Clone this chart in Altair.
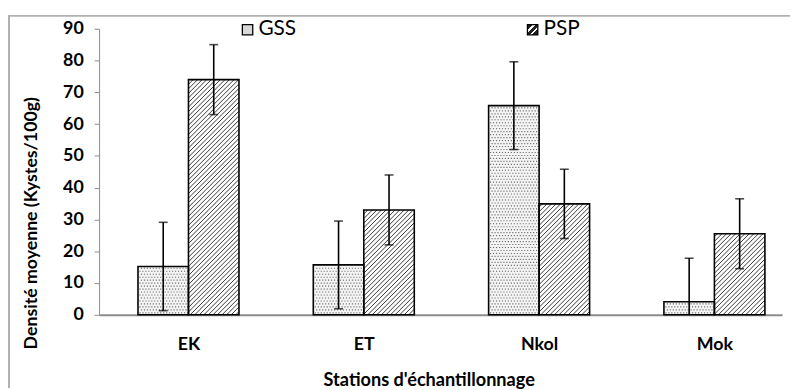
import json
import numpy as np
import pandas as pd
import altair as alt

# ---------------- data ----------------
stations = ["EK", "ET", "Nkol", "Mok"]
series = ["GSS", "PSP"]
gss_mean = [15.2, 15.7, 65.8, 4.1]
gss_err = [13.9, 13.8, 13.8, 13.7]
psp_mean = [74.0, 33.0, 34.9, 25.5]
psp_err = [11.0, 11.0, 10.9, 11.0]
y_ticks = [0, 10, 20, 30, 40, 50, 60, 70, 80, 90]

# ---------------- layout ----------------
W, H = 690, 289
X0, X1 = -0.51, 3.386
Y0, Y1 = 0, 90
HALF = 0.288            # width of one bar, in station units
KX = W / (X1 - X0)      # px per x unit
KY = H / (Y1 - Y0)      # px per y unit
FONT = "Lato"
PAD_B = 74

rows = []
for i, st in enumerate(stations):
    for s, means, errs in (("GSS", gss_mean, gss_err), ("PSP", psp_mean, psp_err)):
        m, e = means[i], errs[i]
        xl = i - HALF if s == "GSS" else i
        xr = i if s == "GSS" else i + HALF
        rows.append(dict(station=st, series=s, mean=m, err=e, xl=xl, xr=xr,
                         xc=(xl + xr) / 2, lo=max(0.0, m - e), hi=m + e,
                         lo_ok=(m - e) >= 0))
bars = pd.DataFrame(rows)

caps = pd.concat([
    bars[["xc", "hi"]].rename(columns={"hi": "yv"}),
    bars.loc[bars.lo_ok, ["xc", "lo"]].rename(columns={"lo": "yv"}),
])

# hatch texture for PSP bars ("/" lines clipped to each bar)
hatch = []
S = 4.6
for _, r in bars[bars.series == "PSP"].iterrows():
    ul, ur, hp = (r.xl - X0) * KX, (r.xr - X0) * KX, r["mean"] * KY
    c = np.floor((ul - hp) / S) * S
    while c < ur:
        ua, ub = max(ul, c), min(ur, c + hp)
        if ub - ua > 0.4:
            hatch.append(dict(x=ua / KX + X0, x2=ub / KX + X0,
                              y=(ua - c) / KY, y2=(ub - c) / KY))
        c += S
hatch = pd.DataFrame(hatch)

# dotted texture for GSS bars
dots = []
for _, r in bars[bars.series == "GSS"].iterrows():
    ul, ur, hp = (r.xl - X0) * KX, (r.xr - X0) * KX, r["mean"] * KY
    row = 0
    w = 2.0
    while w < hp - 1:
        u = ul + (2.0 if row % 2 == 0 else 3.5)
        while u < ur - 1:
            dots.append(dict(x=u / KX + X0, y=w / KY))
            u += 3.0
        w += 3.0
        row += 1
dots = pd.DataFrame(dots)

xscale = alt.Scale(domain=[X0, X1], nice=False, zero=False)
yscale = alt.Scale(domain=[Y0, Y1], nice=False, zero=True)

XT = "Stations d'échantillonnage"
YT = "Densité moyenne (Kystes/100g)"
label_expr = json.dumps(stations) + "[datum.value]"
xaxis = alt.Axis(values=[0, 1, 2, 3], labelExpr=label_expr, ticks=False, grid=False,
                 domainColor="#8c8c8c", domainWidth=2, labelPadding=21,
                 labelFontSize=18, labelFontWeight="bold", labelColor="black",
                 title=XT, titleFontSize=18.3, titleFontWeight="bold",
                 titleColor="black", titleX=333, titleY=71, titleAnchor="middle",
                 titleBaseline="alphabetic")
yaxis = alt.Axis(values=y_ticks, grid=False, domainColor="#8c8c8c", tickColor="#8c8c8c",
                 tickSize=5, labelPadding=11, labelFontSize=18, labelFontWeight="bold",
                 labelColor="black", title=YT,
                 titleFontSize=17.9, titleFontWeight="bold", titleColor="black",
                 titleX=-59, titleY=196)


def X(field):
    return alt.X(field, scale=xscale, axis=xaxis, title=XT)


def Y(field):
    return alt.Y(field, scale=yscale, axis=yaxis, title=YT)


base = alt.Chart(bars)

bar_fill = base.mark_bar(stroke=None).encode(
    x=X("xl:Q"), x2="xr:Q", y=Y("mean:Q"), y2=alt.datum(0),
    fill=alt.Fill("series:N", scale=alt.Scale(domain=series, range=["#f4f4f4", "#ffffff"]),
                  legend=None),
)

dot_layer = alt.Chart(dots).mark_square(size=1.3, color="#6a6a6a", opacity=1).encode(
    x=X("x:Q"), y=Y("y:Q"),
)

hatch_layer = alt.Chart(hatch).mark_rule(color="#222222", strokeWidth=0.9).encode(
    x=X("x:Q"), x2="x2:Q", y=Y("y:Q"), y2="y2:Q",
)

bar_outline = base.mark_bar(fillOpacity=0, stroke="black", strokeWidth=1.6).encode(
    x=X("xl:Q"), x2="xr:Q", y=Y("mean:Q"), y2=alt.datum(0),
)

err_rule = base.mark_rule(color="black", strokeWidth=1.6).encode(
    x=X("xc:Q"), y=Y("lo:Q"), y2="hi:Q",
)

err_caps = alt.Chart(caps).mark_tick(orient="horizontal", size=9, thickness=1.6,
                                     color="black").encode(
    x=X("xc:Q"), y=Y("yv:Q"),
)

one = pd.DataFrame({"k": [0]})
frame_top = alt.Chart(one).mark_rule(color="#b0b0b0", strokeWidth=2).encode(
    x=alt.value(-92), x2=alt.value(W + 8), y=alt.value(-13))
frame_left = alt.Chart(one).mark_rule(color="#b0b0b0", strokeWidth=2).encode(
    x=alt.value(-91), y=alt.value(-13), y2=alt.value(H + PAD_B))

stripes = {"gradient": "linear", "x1": 0, "y1": 0, "x2": 1, "y2": 1,
           "stops": [{"offset": 0.0, "color": "#222"}, {"offset": 0.28, "color": "#222"},
                     {"offset": 0.29, "color": "#fff"}, {"offset": 0.40, "color": "#fff"},
                     {"offset": 0.41, "color": "#222"}, {"offset": 0.58, "color": "#222"},
                     {"offset": 0.59, "color": "#fff"}, {"offset": 0.70, "color": "#fff"},
                     {"offset": 0.71, "color": "#222"}, {"offset": 1.0, "color": "#222"}]}

leg_gss_sym = alt.Chart(one).mark_square(size=110, stroke="black", strokeWidth=1.3,
                                         fill="#d8d8d8", opacity=1).encode(
    x=alt.value(150), y=alt.value(1))
leg_psp_sym = alt.Chart(one).mark_square(size=110, stroke="black", strokeWidth=1.3,
                                         opacity=1).encode(
    x=alt.value(438), y=alt.value(1), fill=alt.value(stripes))
leg_gss_txt = alt.Chart(one).mark_text(align="left", baseline="middle", fontSize=21,
                                       font=FONT, color="black").encode(
    x=alt.value(161), y=alt.value(0), text=alt.value(series[0]))
leg_psp_txt = alt.Chart(one).mark_text(align="left", baseline="middle", fontSize=21,
                                       font=FONT, color="black").encode(
    x=alt.value(449), y=alt.value(0), text=alt.value(series[1]))

chart = alt.layer(
    frame_top, frame_left, bar_fill, dot_layer, hatch_layer, bar_outline,
    err_rule, err_caps, leg_gss_sym, leg_psp_sym, leg_gss_txt, leg_psp_txt,
).properties(
    width=W, height=H,
    padding={"left": 92, "top": 19, "right": 8, "bottom": PAD_B},
    autosize=alt.AutoSizeParams(type="none"),
    background="white",
).configure_view(stroke=None).configure_axis(labelFont=FONT, titleFont=FONT)

chart.save("out.html", embed_options={"renderer": "svg", "actions": False})
